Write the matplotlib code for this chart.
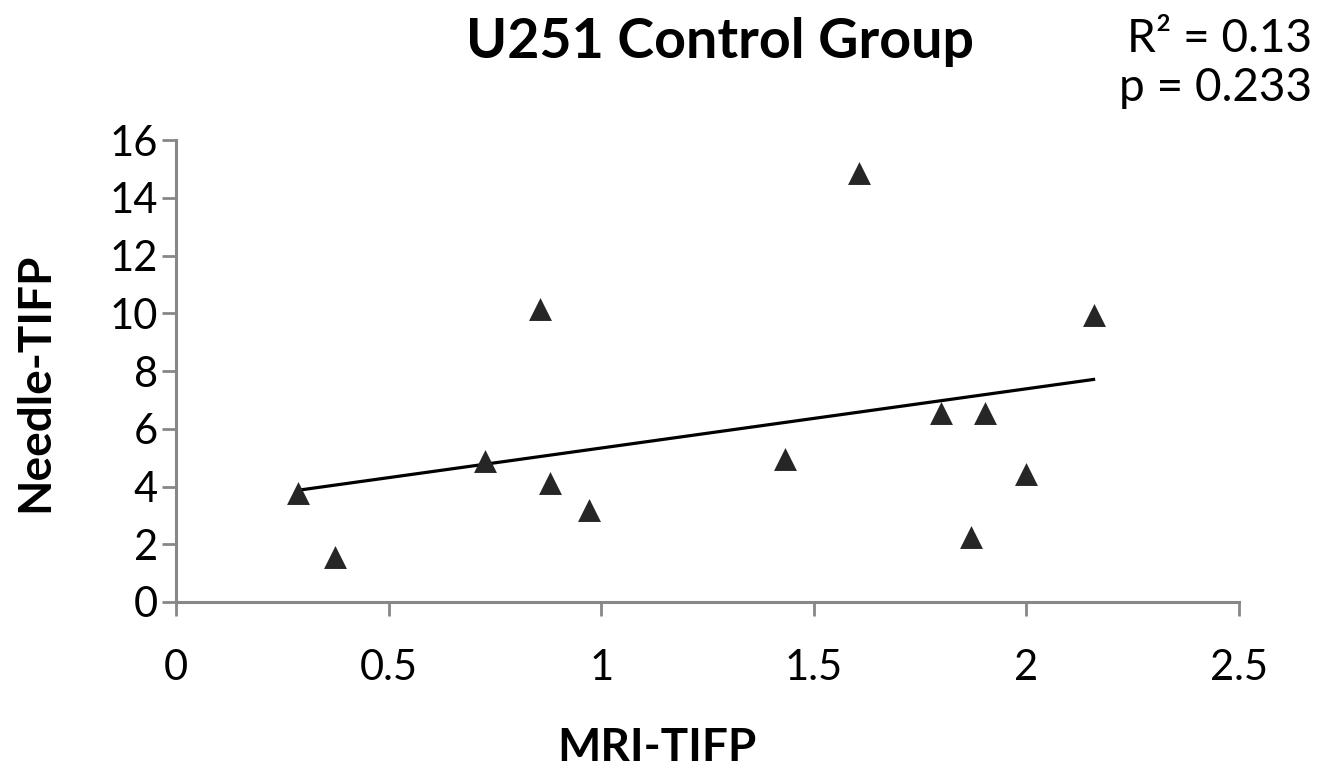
import numpy as np
import matplotlib.pyplot as plt

# MRI-TIFP vs Needle-TIFP, U251 control group
mri_tifp = [0.286, 0.373, 0.726, 0.856, 0.879, 0.972, 1.433, 1.606, 1.800, 1.869, 1.903, 1.998, 2.158]
needle_tifp = [3.79, 1.56, 4.88, 10.14, 4.13, 3.20, 4.95, 14.86, 6.56, 2.24, 6.56, 4.44, 9.93]
x_ticks = [0, 0.5, 1, 1.5, 2, 2.5]
x_tick_labels = ["0", "0.5", "1", "1.5", "2", "2.5"]
y_ticks = [0, 2, 4, 6, 8, 10, 12, 14, 16]
r_squared_text = "R\u00b2 = 0.13"
p_text = "p = 0.233"

plt.rcParams['font.family'] = ['Lato', 'DejaVu Sans']
axis_grey = "#878787"

fig = plt.figure(figsize=(13.36, 7.81), dpi=100)
ax = fig.add_axes([0.1317, 0.2292, 0.7957, 0.5915])

x = np.array(mri_tifp)
y = np.array(needle_tifp)
ax.scatter(x, y, marker="^", s=16.5 ** 2, color="#262626", linewidths=0, zorder=3)

# linear trend line over the data range
slope, intercept = np.polyfit(x, y, 1)
xs = np.array([x.min(), x.max()])
ax.plot(xs, slope * xs + intercept, color="black", lw=2.3, zorder=2)

ax.set_xlim(0, 2.5)
ax.set_ylim(0, 16)
ax.set_xticks(x_ticks)
ax.set_xticklabels(x_tick_labels)
ax.set_yticks(y_ticks)

for side in ["top", "right"]:
    ax.spines[side].set_visible(False)
for side in ["left", "bottom"]:
    ax.spines[side].set_color(axis_grey)
    ax.spines[side].set_linewidth(2.2)
ax.tick_params(axis="both", colors=axis_grey, width=2.0, length=10, direction="out",
               labelsize=30, labelcolor="black")
ax.tick_params(axis="x", pad=24)
ax.tick_params(axis="y", pad=3)

ax.set_xlabel("MRI-TIFP", fontsize=33, fontweight="bold", va="center")
ax.xaxis.set_label_coords(0.4525, -0.316)
ax.set_ylabel("Needle-TIFP", fontsize=33, fontweight="bold")
ax.yaxis.set_label_coords(-0.113, 0.476)

fig.text(0.539, 0.946, "U251 Control Group", fontsize=40, fontweight="bold",
         ha="center", va="center")
fig.text(0.982, 0.950, r_squared_text, fontsize=33, ha="right", va="center")
fig.text(0.982, 0.887, p_text, fontsize=33, ha="right", va="center")

fig.savefig("out.png", dpi=100)
